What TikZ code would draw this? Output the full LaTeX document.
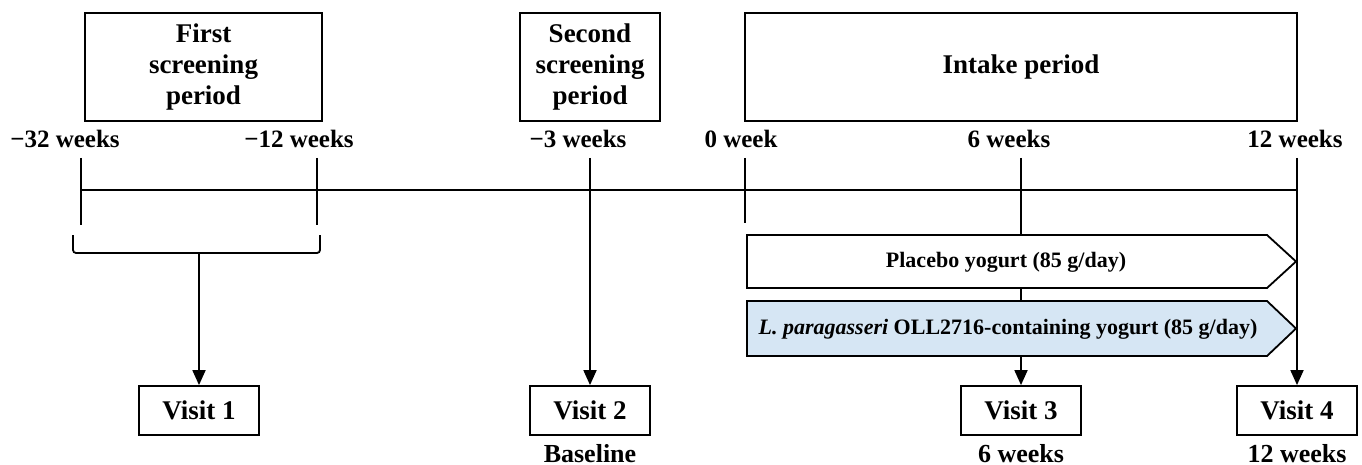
\documentclass[tikz,border=0pt]{standalone}
\usepackage{fontspec}
\setmainfont{Liberation Serif}
\usetikzlibrary{arrows.meta}
\definecolor{lightblue}{RGB}{214,230,244}
\begin{document}
\begin{tikzpicture}[x=1pt,y=-1pt,
  ln/.style={line width=1.8pt},
  box/.style={draw, line width=1.8pt, align=center, inner sep=0pt,
     font=\bfseries\fontsize{27}{31}\selectfont},
  lab/.style={font=\bfseries\fontsize{25}{30}\selectfont, anchor=base, inner sep=0pt},
  sub/.style={font=\bfseries\fontsize{26}{30}\selectfont, anchor=base, inner sep=0pt},
  visit/.style={box, minimum width=120pt, minimum height=49pt},
  arr/.style={line width=1.8pt, -{Triangle[length=15pt,width=13pt]}},
  arm/.style={draw, line width=1.8pt, line join=miter},
  armtxt/.style={font=\bfseries\fontsize{22}{26}\selectfont, inner sep=0pt}
]
\useasboundingbox (0,0) rectangle (1362,465);

% period boxes
\node[box, minimum width=237pt, minimum height=108pt] (fs) at (203.5,67) {First\\screening\\period};
\node[box, minimum width=140pt, minimum height=108pt] (ss) at (590,67) {Second\\screening\\period};
\node[box, minimum width=552pt, minimum height=108pt] (ip) at (1021,67) {Intake period};

% time labels
\node[lab] (l32) at (65,148) {−32 weeks};
\node[lab] (l12) at (299,148) {−12 weeks};
\node[lab] (l3) at (578,148) {−3 weeks};
\node[lab] (l0) at (741,148) {0 week};
\node[lab] (l6) at (1009,148) {6 weeks};
\node[lab] (l12p) at (1295,148) {12 weeks};

% tick coordinates
\coordinate (a32) at (81,158); \coordinate (b32) at (81,225);
\coordinate (a12) at (317,158); \coordinate (b12) at (317,225);
\coordinate (a3) at (590,158);
\coordinate (a0) at (745,158); \coordinate (b0) at (745,223);
\coordinate (a6) at (1021,158);
\coordinate (a12p) at (1297,158);
\coordinate (ls) at (81,190); \coordinate (le) at (1297,190);

% visit boxes
\node[visit] (v1) at (199,410.5) {Visit 1};
\node[visit] (v2) at (590,410.5) {Visit 2};
\node[visit] (v3) at (1021,410.5) {Visit 3};
\node[visit] (v4) at (1297,410.5) {Visit 4};
\node[sub] (s2) at (590,462) {Baseline};
\node[sub] (s3) at (1021,462) {6 weeks};
\node[sub] (s4) at (1297,462) {12 weeks};

% timeline and ticks
\draw[ln] (ls) -- (le);
\draw[ln] (a32) -- (b32);
\draw[ln] (a12) -- (b12);
\draw[ln] (a0) -- (b0);

% bracket
\coordinate (bl) at (73,235); \coordinate (br) at (320,235);
\coordinate (bm) at (199,253);
\draw[ln, rounded corners=3pt] (bl) -- (73,253) -- (320,253) -- (br);
\draw[arr] (bm) -- (v1.north);

% long vertical arrows
\draw[arr] (a3) -- (v2.north);
\draw[arr] (a6) -- (v3.north);
\draw[arr] (a12p) -- (v4.north);

% arms
\draw[arm, fill=white] (747,235) -- (1267,235) -- (1296,261.5) -- (1267,288) -- (747,288) -- cycle;
\node[armtxt] (pl) at (1006,262) {Placebo yogurt (85 g/day)};
\draw[arm, fill=lightblue] (747,301) -- (1267,301) -- (1296,328.5) -- (1267,356) -- (747,356) -- cycle;
\node[armtxt] (lp) at (1008,329) {\textit{L. paragasseri} OLL2716-containing yogurt (85 g/day)};
\end{tikzpicture}
\end{document}
